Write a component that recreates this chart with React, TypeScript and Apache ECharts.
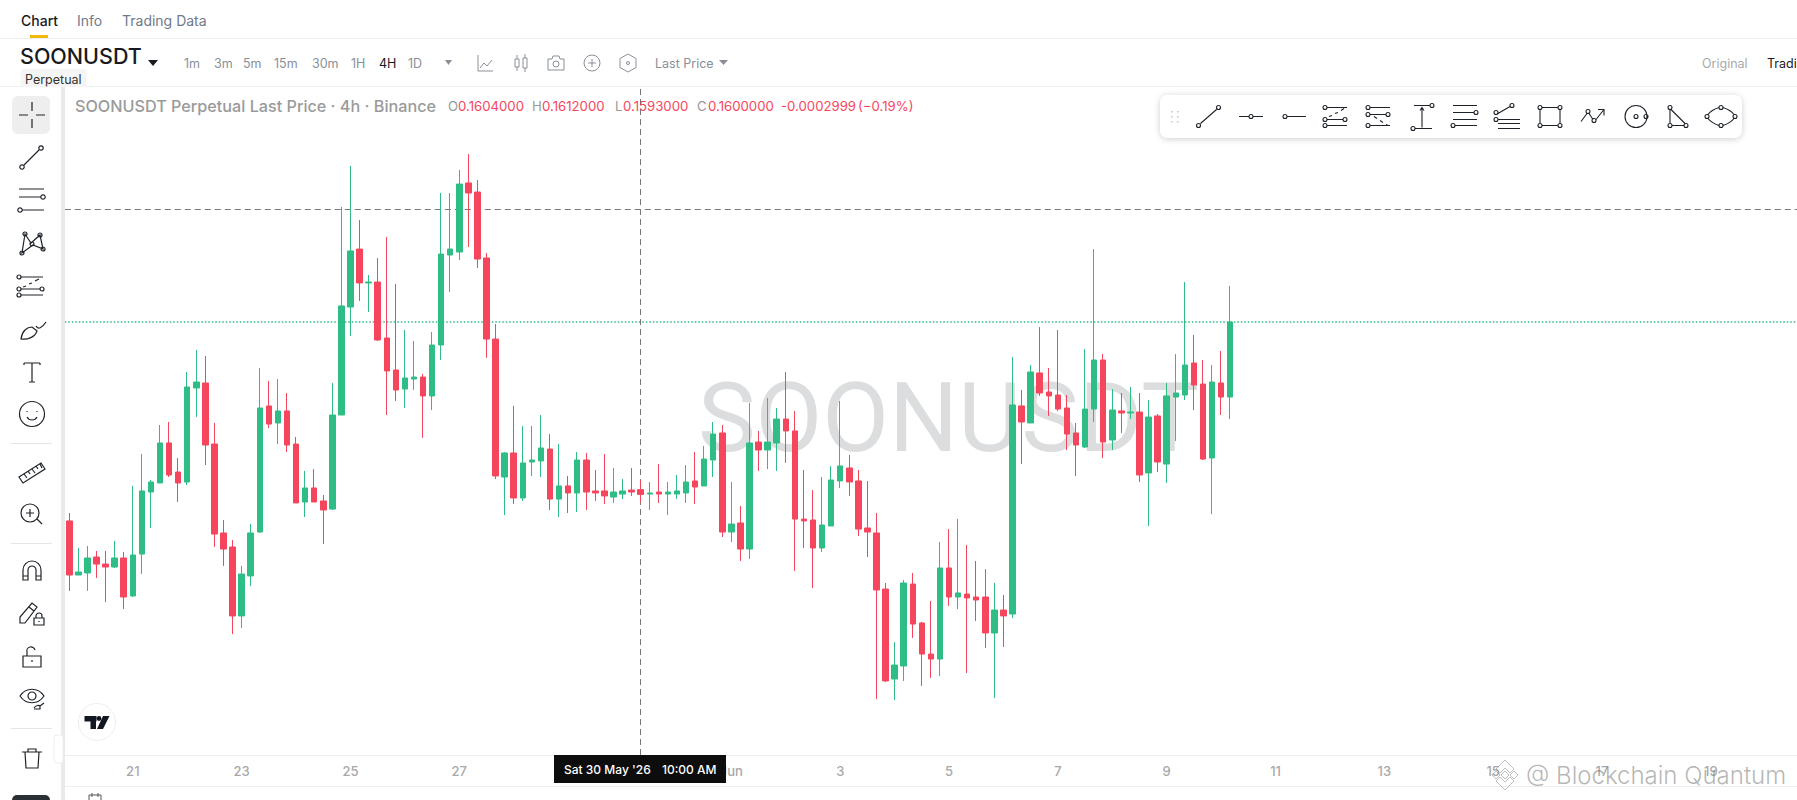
import React, { useEffect, useRef } from "react";
import * as echarts from "echarts";

// Prices are listed in units of 0.00001 USDT.
const opens = [15777,15323,15340,15474,15415,15390,15466,15147,15499,16020,16096,16432,16188,16104,16894,16936,16423,15676,15558,14979,15315,15684,16743,16600,16701,16423,15936,16054,15945,15877,16667,17574,18061,17776,17784,17314,17045,16885,16969,16986,16827,17255,18011,18036,18616,18540,17986,17305,16146,16348,15970,16272,16281,16381,15961,16071,16012,16289,16029,16029,15978,16003,16037,16040,16003,16020,16003,16003,16012,16113,16071,16289,16516,15684,15760,15541,16440,16373,16432,16633,16533,15793,15785,15550,15735,16113,16222,16113,15718,15676,15205,14449,14559,15247,14920,14659,14617,15382,15138,15163,15138,15138,14836,15029,14995,16743,16600,17020,16860,16835,16726,16516,16398,16717,17129,16457,16701,16684,16692,16180,16659,16255,16818,16835,17104,16927,16306,16936,16818];
const closes = [15323,15348,15466,15415,15390,15466,15138,15491,16029,16104,16432,16163,16096,16902,16944,16415,15667,15541,14979,15331,15676,16726,16591,16701,16415,15928,16054,15936,15869,16667,17583,18045,17776,17784,17297,17037,16877,16978,16986,16827,17255,18019,18061,18607,18532,17977,17305,16155,16348,15970,16264,16289,16390,15961,16071,16012,16289,16020,16012,15987,16020,16029,16020,16000,16012,16003,16020,16029,16104,16062,16297,16507,15684,15751,15541,16432,16373,16440,16633,16533,15793,15777,15550,15743,16121,16239,16104,15709,15684,15197,14433,14567,15256,14911,14659,14617,15382,15138,15172,15130,15113,14836,15029,14979,16751,16608,17028,16852,16827,16717,16507,16415,16717,17129,16440,16709,16684,16692,16163,16650,16272,16827,16852,17087,16919,16297,16944,16818,17448];
const highs = [15844,15550,15567,15525,15525,15609,15516,16071,16339,16121,16583,16608,16306,17028,17213,17163,16600,15785,15617,15399,15751,17062,16953,16969,16852,16482,16197,16213,15995,16936,18414,18759,18305,17843,17986,18162,17767,17381,17289,17011,17364,18532,18532,18725,18859,18641,18028,17431,16356,16743,16575,16575,16667,16507,16423,16155,16356,16348,16205,16339,16222,16129,16222,16120,16104,16255,16104,16163,16247,16356,16407,16608,16583,16104,15903,16768,16533,16810,16726,17028,16701,16205,16037,16146,16239,16785,16331,16205,16113,15844,15256,14760,15281,15340,14928,15105,15600,15709,15793,15575,15441,15373,15256,15155,17154,16877,17087,17406,17062,17381,16835,16600,17221,18061,17179,16885,16852,16902,16852,16793,16675,16936,17179,17784,17339,17129,17087,17205,17751];
const lows = [15189,15323,15189,15298,15096,15382,15037,15138,15331,15718,16096,16146,15936,16079,16650,16247,15558,15399,14827,14878,15231,15676,16558,16423,16356,15928,15810,15936,15583,15869,16667,17331,17625,17532,17289,16667,16785,16726,16877,16474,16709,17129,17700,17969,18078,17902,17146,16129,15827,15919,15945,16155,16146,15869,15810,15844,15852,15869,15945,15919,15928,15961,15987,15930,15869,15928,15827,15961,15928,15919,16071,16146,15642,15600,15441,15457,16197,16213,16197,16264,15357,15550,15214,15516,15735,16054,15987,15651,15474,14281,14424,14273,14433,14794,14391,14458,14475,15063,15037,14500,14937,14710,14290,14718,14962,16255,16600,16827,16659,16701,16373,16155,16390,16608,16306,16373,16516,16633,16104,15735,16188,16096,16449,16793,16709,16289,15835,16667,16633];

const PRICE_UNIT = 100000;
const tickLabels: Record<number, string> = { 7: "21", 19: "23", 31: "25", 43: "27", 55: "29", 67: "31", 73: "Jun", 85: "3", 97: "5", 109: "7", 121: "9", 133: "11", 145: "13", 157: "15", 169: "17", 181: "19" };
const SLOT_COUNT = 191;
const categories = Array.from({ length: SLOT_COUNT }, (_, i) => String(i));
const crosshairIndex = 63;
const crosshairPrice = 0.18395;
const priceMin = 0.13811;
const priceMax = 0.194222;

const timeframes = [["1m", 184], ["3m", 214], ["5m", 243], ["15m", 274], ["30m", 312], ["1H", 351], ["4H", 379], ["1D", 408]] as [string, number][];

const GREEN = "#2ebd85";
const RED = "#f6465d";
const FONT = "Inter, Roboto, sans-serif";

const c = (x: number, y: number, r: number) => `M${x + r} ${y}A${r} ${r} 0 1 0 ${x - r} ${y}A${r} ${r} 0 1 0 ${x + r} ${y}Z`;

const ICONS: Record<string, string> = {
  cross: "M-13 0H-4M4 0H13M0 -13V-4M0 4V13",
  trend: `M-8 8L7 -7${c(-10, 10, 2.2)}${c(9, -9, 2.2)}`,
  channel: `M-13 -10H12M-13 -2H9M-10 11H12${c(11, -2, 2.2)}${c(-12, 11, 2.2)}`,
  pattern: `M-7 -10L-10 9L1 1L11 5L8 -9L-1 -1Z${c(-7, -10, 2)}${c(8, -9, 2)}${c(11, 5, 2)}${c(-10, 9, 2)}${c(0, 0, 2)}`,
  fib: `M-10 -9H12M-10 3H9M-10 9H12M-8 1L-5 0M-2 -2L1 -3M4 -5L8 -7${c(-12, -9, 2)}${c(-12, 3, 2)}${c(-12, 9, 2)}${c(11, 3, 2)}`,
  brush: "M-12 11C-11 3 -6 -1 -1 -1L4 3C2 9 -5 12 -12 11ZM3 -2C5 2 9 0 13 -6",
  text: "M-8 -9V-7M8 -9V-7M-8 -9H8M0 -9V10M-3 10H3",
  smile: `${c(0, 0, 12.5)}M-5 -3V-2M5 -3V-2M-5 3C-3 7 3 7 5 3`,
  ruler: "M-13 5L9 -9L13 -3L-9 11ZM-8 2L-5 6M-4 -1L-2 2M0 -3L3 1M4 -6L6 -3M8 -8L10 -4",
  zoom: `${c(-1, -1, 9)}M-5 -1H3M-1 -5V3M6 5L11 10`,
  magnet: "M-9 9V-1A9 9 0 0 1 9 -1V9H4V-1A4 4 0 0 0 -4 -1V9ZM-9 5H-4M4 5H9",
  penlock: "M-12 9V3L0 -11L5 -7L-7 9ZM-3 -7L2 -3M2 4H12V11H2ZM4 4V2A3 3 0 0 1 10 2V4M7 7V8",
  lock: "M-9 -2H9V9H-9ZM-5 -2V-6A4 4 0 0 1 3 -8M0 2V4",
  eye: `M-12 -3C-6 -12 6 -12 12 -3C6 6 -6 6 -12 -3Z${c(0, -3, 4)}M2 9C4 6 7 6 8 7L12 4M2 10H8L8 7`,
  trash: "M-10 -5H10M-4 -5V-8H4V-5M-7 -5L-6 11H6L7 -5",
  caretLine: "M-7 -8V8H8M-5 5L-1 0L2 3L7 -3",
  candles: "M-6 -4H-2V4H-6ZM-4 -8V-4M-4 4V8M2 -5H6V5H2ZM4 -9V-5M4 5V9",
  camera: `M-8 -4H-4L-3 -7H3L4 -4H8V7H-8Z${c(0, 1, 3)}`,
  plus: `${c(0, 0, 8)}M-4 0H4M0 -4V4`,
  hex: `M0 -9L8 -4.5V4.5L0 9L-8 4.5V-4.5Z${c(0, 0, 1.5)}`,
  d1: `M-8 7L8 -7${c(-10, 9, 2)}${c(10, -9, 2)}`,
  d2: `M-12 0H-2M2 0H12${c(0, 0, 2)}`,
  d3: `M-8 0H11${c(-10, 0, 2)}`,
  d4: `M-8 -9H12M-8 3H8M-8 9H12M-6 0L-3 -1M0 -3L3 -4M6 -6L9 -8${c(-10, -9, 2)}${c(-10, 3, 2)}${c(10, 3, 2)}${c(-10, 9, 2)}`,
  d5: `M-8 -9H12M-8 -2H8M-8 9H12M-4 0L-1 2M2 4L5 6M8 8L10 9${c(-10, -9, 2)}${c(-10, -2, 2)}${c(10, -2, 2)}${c(-10, 9, 2)}`,
  d6: `M-8 -11H8M0 11V-9M-2 -6L0 -9L2 -6M-7 12H10${c(10, -11, 2)}${c(-9, 12, 2)}`,
  d7: `M-12 -11H12M-12 -4H9M-12 3H12M-10 9H12${c(11, -4, 2)}${c(-12, 9, 2)}`,
  d8: `M-10 3H12M-10 7H12M-10 12H12M-10 -3L2 -10${c(-12, -4, 2)}${c(4, -11, 2)}${c(-12, 3, 2)}`,
  d9: `M-8 -9H8M-10 -7V7M10 -7V7M-8 9H8${c(-10, -9, 2)}${c(10, -9, 2)}${c(-10, 9, 2)}${c(10, 9, 2)}`,
  d10: `M-12 5L-6 -3M-4 -3L0 3M3 3L11 -7M5 -7H11V-1${c(-5, -5, 2)}${c(1, 4, 2)}`,
  d11: `${c(0, 0, 11)}${c(0, 0, 2)}${c(10, 0, 2)}`,
  d12: `M-7 -7V7M-5 9H7M-6 -7L8 7${c(-7, -9, 2)}${c(-7, 9, 2)}${c(9, 9, 2)}`,
  d13: `M-13 -2C-10 -6 -5 -8 -2 -9M2 -9C5 -8 10 -6 13 -2M13 2C10 6 5 8 2 9M-2 9C-5 8 -10 6 -13 2${c(-14, 0, 2)}${c(14, 0, 2)}${c(0, -9, 2)}${c(0, 9, 2)}`,
  tv: `M-12.5 -6.5H-0.5V-1H-1V6.5H-6.5V-1H-12.5ZM6 -6.5H12.5L6 6.5H0Z${c(2, -4, 2.4)}`,
  binance: "M0 -15L9 -6L5 -2L0 -7L-5 -2L-9 -6ZM-13 0L-9 -4L-5 0L-9 4ZM13 0L9 -4L5 0L9 4ZM0 15L-9 6L-5 2L0 7L5 2L9 6ZM0 -4L4 0L0 4L-4 0Z",
  calendar: "M-6 -4H6V6H-6ZM-3 -6V-2M3 -6V-2",
};
Object.keys(ICONS).forEach((k) => echarts.graphic.registerShape("ic_" + k, echarts.graphic.extendPath(ICONS[k], {})));

const txt = (x: number, y: number, text: string, fill: string, fontSize: number, fontWeight: number = 400, extra: any = {}) => ({
  type: "text", x, y, z: 10,
  style: { text, fill, fontSize, fontWeight, fontFamily: FONT, align: "left", verticalAlign: "middle", ...extra },
  silent: true,
});
const rect = (x: number, y: number, width: number, height: number, fill: string, r = 0, z = 10, extra: any = {}) => ({
  type: "rect", z, silent: true, shape: { x, y, width, height, r }, style: { fill, ...extra },
});
const icon = (name: string, x: number, y: number, stroke = "#1e2329", lineWidth = 1.2, z = 20, extra: any = {}) => ({
  type: "ic_" + name, x, y, z, silent: true, style: { fill: "none", stroke, lineWidth, ...extra },
});

function buildGraphics() {
  const els: any[] = [];
  // header
  els.push(rect(0, 38, 1797, 1, "#eeeeee"), rect(0, 86, 1797, 1, "#eeeeee"));
  els.push(txt(21, 20, "Chart", "#181a20", 14, 500));
  els.push(rect(30, 35, 18, 3, "#f0b90b"));
  els.push(txt(77, 20, "Info", "#707a8a", 14));
  els.push(txt(122, 20, "Trading Data", "#707a8a", 14));
  els.push(txt(20, 56, "SOONUSDT", "#181a20", 21.5, 500));
  els.push({ type: "polygon", z: 10, silent: true, shape: { points: [[148, 60], [158, 60], [153, 66]] }, style: { fill: "#181a20" } });
  timeframes.forEach(([t, x]) => els.push(txt(x, 63, t, t === "4H" ? "#181a20" : "#8a8f98", 12.5)));
  els.push({ type: "polygon", z: 10, silent: true, shape: { points: [[445, 60], [452, 60], [448.5, 65]] }, style: { fill: "#8a8f98" } });
  els.push(icon("caretLine", 485, 63, "#8a8f98", 1), icon("candles", 521, 63, "#8a8f98", 1), icon("camera", 556, 63, "#8a8f98", 1), icon("plus", 592, 63, "#8a8f98", 1), icon("hex", 628, 63, "#8a8f98", 1));
  els.push(txt(655, 63, "Last Price", "#8a8f98", 12.5));
  els.push({ type: "polygon", z: 10, silent: true, shape: { points: [[719, 60], [728, 60], [723.5, 65]] }, style: { fill: "#8a8f98" } });
  els.push(rect(20.5, 69, 66, 18, "#f5f5f5", 2));
  els.push(txt(25, 79, "Perpetual", "#333333", 12.5));
  els.push(txt(1702, 63, "Original", "#aaaaaa", 12.5));
  els.push(txt(1767, 63, "Tradi", "#181a20", 12.5));
  // side bar
  els.push(rect(61, 87, 4, 713, "#eaeaea"));
  els.push(rect(12, 96, 38, 38, "#eeeeee", 6, 10));
  els.push(icon("cross", 32, 115), icon("trend", 32, 157), icon("channel", 32, 199), icon("pattern", 32, 244), icon("fib", 31, 286), icon("brush", 33, 328), icon("text", 32, 372), icon("smile", 32, 414));
  els.push(rect(11, 443, 41, 1, "#e6e6e6"));
  els.push(icon("ruler", 32, 472), icon("zoom", 31, 514));
  els.push(rect(11, 543, 41, 1, "#e6e6e6"));
  els.push(icon("magnet", 32, 571), icon("penlock", 32, 614), icon("lock", 32, 658), icon("eye", 32, 699));
  els.push(rect(11, 728, 41, 1, "#e6e6e6"));
  els.push(icon("trash", 32, 757));
  els.push(rect(54, 735, 9, 28, "#ffffff", 3, 11, { stroke: "#eeeeee", lineWidth: 1 }));
  els.push(txt(56, 749, "‹", "#bbbbbb", 11, 400, { fontFamily: "DejaVu Sans" }));
  els.push(rect(12, 795, 38, 10, "#2b2f36", 6));
  // legend
  els.push(txt(75, 106, "SOONUSDT Perpetual Last Price · 4h · Binance", "#9a9a9a", 16.2, 500));
  ([["O", 448, "0.1604000", 458], ["H", 532, "0.1612000", 542], ["L", 615, "0.1593000", 623], ["C", 697, "0.1600000", 708]] as [string, number, string, number][]).forEach(([k, kx, v, vx]) => {
    els.push(txt(kx, 106, k, "#9a9a9a", 13.2));
    els.push(txt(vx, 106, v, RED, 13.2));
  });
  els.push(txt(781, 106, "-0.0002999", RED, 13.2), txt(858, 106, "(−0.19%)", RED, 13.2));
  // drawing toolbar
  els.push(rect(1160, 95, 582, 43, "#ffffff", 8, 30, { shadowBlur: 6, shadowColor: "rgba(0,0,0,0.2)", shadowOffsetY: 1 }));
  [[1171, 111], [1177, 111], [1171, 116], [1177, 116], [1171, 121], [1177, 121]].forEach(([x, y]) => els.push(rect(x, y, 1.5, 1.5, "#c4c4c4", 0, 31)));
  ([[1208.5, "d1"], [1251, "d2"], [1295, "d3"], [1335, "d4"], [1378, "d5"], [1422, "d6"], [1465, "d7"], [1508, "d8"], [1550, "d9"], [1593, "d10"], [1636, "d11"], [1677, "d12"], [1721, "d13"]] as [number, string][]).forEach(([x, n]) => els.push(icon(n, x, 116.5, "#1e2329", 1.1, 31)));
  // watermark
  els.push({ type: "text", x: 698, y: 418, z: 0, silent: true, style: { text: "SOONUSDT", fill: "#dcddde", fontSize: 97, fontFamily: "Roboto", verticalAlign: "middle", align: "left" } });
  // TV logo
  els.push({ type: "circle", z: 10, silent: true, shape: { cx: 97, cy: 722, r: 18.5 }, style: { fill: "#ffffff", stroke: "#eeeeee", lineWidth: 1 } });
  els.push({ ...icon("tv", 97, 722.5), style: { fill: "#131722", stroke: "none" } });
  // bottom
  els.push(rect(65, 786, 1732, 1, "#eeeeee"));
  els.push(icon("calendar", 95, 799, "#555555", 1));
  els.push(rect(554, 755, 172, 28, "#0d0d0d", 0, 40));
  els.push({ ...txt(564, 769, "Sat 30 May '26", "#ffffff", 12, 500), z: 41 });
  els.push({ ...txt(662, 769, "10:00 AM", "#ffffff", 12, 500), z: 41 });
  // overlaid credit
  els.push({ ...icon("binance", 1505, 775, "rgba(130,130,130,0.5)", 1, 50) });
  els.push({ ...txt(1526, 775, "@ Blockchain Quantum", "rgba(120,120,120,0.55)", 24, 300), z: 50 });
  return els;
}

export default function App() {
  const ref = useRef<HTMLDivElement>(null);
  useEffect(() => {
    document.body.style.margin = "0";
    document.body.style.overflow = "hidden";
    const chart = echarts.init(ref.current!, undefined, { renderer: "svg" });
    const data = opens.map((o, i) => [o / PRICE_UNIT, closes[i] / PRICE_UNIT, lows[i] / PRICE_UNIT, highs[i] / PRICE_UNIT]);
    chart.setOption({
      animation: false,
      backgroundColor: "#ffffff",
      grid: { left: 64.8, top: 87, width: 1732.2, height: 668, containLabel: false },
      xAxis: {
        type: "category",
        data: categories,
        boundaryGap: true,
        axisLine: { show: true, lineStyle: { color: "#eeeeee", width: 1 } },
        axisTick: { show: false },
        splitLine: { show: false },
        axisLabel: {
          interval: 0,
          margin: 9,
          color: "#a8a8a8",
          fontSize: 13,
          fontWeight: 500,
          fontFamily: FONT,
          hideOverlap: false,
          formatter: (v: string) => tickLabels[Number(v)] ?? "",
        },
      },
      yAxis: { type: "value", show: false, min: priceMin, max: priceMax, splitLine: { show: false } },
      series: [
        {
          type: "candlestick",
          data,
          barWidth: 6,
          z: 5,
          itemStyle: { color: GREEN, color0: RED, borderColor: GREEN, borderColor0: RED, borderWidth: 1 },
          markLine: {
            silent: true,
            symbol: "none",
            precision: 6,
            label: { show: false },
            animation: false,
            data: [
              { yAxis: closes[closes.length - 1] / PRICE_UNIT, lineStyle: { color: GREEN, width: 1.5, type: [1.5, 2] } },
              { yAxis: crosshairPrice, lineStyle: { color: "#777777", width: 1, type: [6, 4] } },
              { xAxis: crosshairIndex, lineStyle: { color: "#777777", width: 1, type: [6, 4] } },
            ],
          },
        },
      ],
      graphic: { elements: buildGraphics() },
    });
    return () => chart.dispose();
  }, []);
  return <div ref={ref} style={{ position: "absolute", left: 0, top: 0, width: 1797, height: 800 }} />;
}
